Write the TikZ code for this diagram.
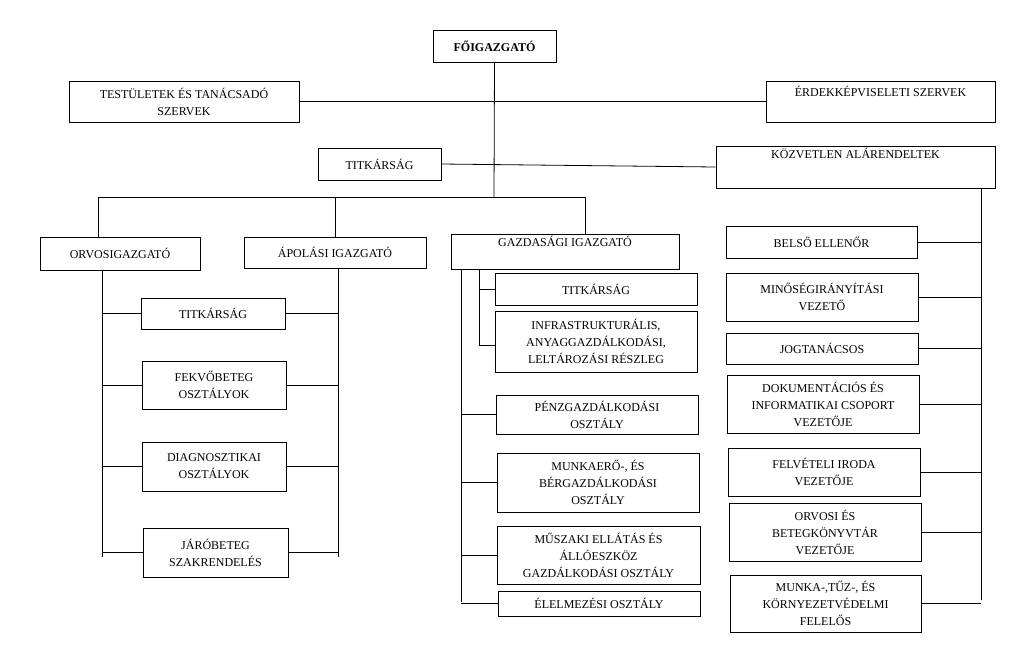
\documentclass[tikz,border=0pt]{standalone}
\usepackage{fontspec}
\setmainfont{Liberation Serif}
\usetikzlibrary{positioning}

% box from its corners: name, x1, y1, x2, y2, text
\newcommand{\orgbox}[6]{%
  \node[unit, minimum width=#4pt-#2pt, minimum height=#5pt-#3pt] (#1) at ({(#2+#4)/2},{(#3+#5)/2}) {#6};}

\begin{document}
\begin{tikzpicture}[
    x=1pt, y=-1pt,
    % Define the style for the boxes
    unit/.style={draw=black, line width=0.8pt, inner sep=2pt, align=center,
                 font=\fontsize{12}{17}\selectfont},
    link/.style={draw=black, line width=0.8pt}
]
    \useasboundingbox (0,0) rectangle (1023,665);

    % top level
    \orgbox{boss}{433}{30}{556}{62}{\textbf{FŐIGAZGATÓ}}
    \orgbox{bodies}{69}{81}{299}{122}{TESTÜLETEK ÉS TANÁCSADÓ\\SZERVEK}
    \orgbox{interest}{766}{81}{995}{122}{ÉRDEKKÉPVISELETI SZERVEK\\[4pt]}
    \orgbox{office}{318}{148}{441}{180}{TITKÁRSÁG}
    \orgbox{direct}{716}{146}{995}{188}{KÖZVETLEN ALÁRENDELTEK\\[10pt]}

    % directors
    \orgbox{med}{40}{237}{200}{270}{ORVOSIGAZGATÓ}
    \orgbox{nurse}{244}{237}{426}{268}{ÁPOLÁSI IGAZGATÓ}
    \orgbox{econ}{451}{236}{679}{268}{GAZDASÁGI IGAZGATÓ\\[4pt]}

    % medical and nursing units
    \orgbox{m1}{141}{298}{285}{329}{TITKÁRSÁG}
    \orgbox{m2}{142}{361}{286}{409}{FEKVŐBETEG\\OSZTÁLYOK}
    \orgbox{m3}{142}{442}{286}{491}{DIAGNOSZTIKAI\\OSZTÁLYOK}
    \orgbox{m4}{143}{528}{288}{577}{JÁRÓBETEG\\SZAKRENDELÉS}

    % economic units
    \orgbox{e1}{495}{273}{697}{305}{TITKÁRSÁG}
    \orgbox{e2}{495}{311}{697}{372}{INFRASTRUKTURÁLIS,\\ANYAGGAZDÁLKODÁSI,\\LELTÁROZÁSI RÉSZLEG}
    \orgbox{e3}{496}{395}{698}{434}{PÉNZGAZDÁLKODÁSI\\OSZTÁLY}
    \orgbox{e4}{497}{453}{699}{512}{MUNKAERŐ-, ÉS\\BÉRGAZDÁLKODÁSI\\OSZTÁLY}
    \orgbox{e5}{497}{526}{700}{584}{MŰSZAKI ELLÁTÁS ÉS\\ÁLLÓESZKÖZ\\GAZDÁLKODÁSI OSZTÁLY}
    \orgbox{e6}{498}{591}{700}{616}{ÉLELMEZÉSI OSZTÁLY}

    % direct subordinates
    \orgbox{d1}{726}{226}{917}{258}{BELSŐ ELLENŐR}
    \orgbox{d2}{726}{273}{918}{321}{MINŐSÉGIRÁNYÍTÁSI\\VEZETŐ}
    \orgbox{d3}{726}{333}{918}{364}{JOGTANÁCSOS}
    \orgbox{d4}{727}{375}{919}{433}{DOKUMENTÁCIÓS ÉS\\INFORMATIKAI CSOPORT\\VEZETŐJE}
    \orgbox{d5}{728}{448}{920}{496}{FELVÉTELI IRODA\\VEZETŐJE}
    \orgbox{d6}{729}{503}{921}{561}{ORVOSI ÉS\\BETEGKÖNYVTÁR\\VEZETŐJE}
    \orgbox{d7}{730}{575}{921}{632}{MUNKA-,TŰZ-, ÉS\\KÖRNYEZETVÉDELMI\\FELELŐS}

    % trunk
    \coordinate (trunk) at (494,197);
    \coordinate (lbar) at (98,197);
    \coordinate (rbar) at (585,197);
    \draw[link] (boss.south) -- (trunk);
    \draw[link] (bodies.east) -- (interest.west);
    \draw[link] (office.east) -- (direct.west);
    \draw[link] (med.north -| lbar) |- (rbar) -- (econ.north -| rbar);
    \draw[link] (nurse.north) -- (nurse.north |- trunk);

    % medical and nursing lines
    \coordinate (ml) at (102,557);
    \coordinate (nl) at (338,557);
    \draw[link] (med.south -| ml) -- (ml);
    \draw[link] (nurse.south -| nl) -- (nl);
    \foreach \u in {m1,m2,m3,m4} {
        \draw[link] (ml |- \u.west) -- (\u.west);
        \draw[link] (\u.east) -- (nl |- \u.east);
    }

    % economic lines
    \coordinate (eo) at (461,602);
    \coordinate (ei) at (479,345);
    \draw[link] (econ.south -| eo) -- (eo);
    \draw[link] (econ.south -| ei) -- (ei);
    \draw[link] (ei |- e1.west) -- (e1.west);
    \draw[link] (ei) -- (e2.west |- ei);
    \foreach \u in {e3,e4,e5,e6}
        \draw[link] (eo |- \u.west) -- (\u.west);

    % direct subordinate lines
    \coordinate (dr) at (981,600);
    \draw[link] (direct.south -| dr) -- (dr);
    \foreach \u in {d1,d2,d3,d4,d5,d6,d7}
        \draw[link] (\u.east) -- (dr |- \u.east);

\end{tikzpicture}
\end{document}
